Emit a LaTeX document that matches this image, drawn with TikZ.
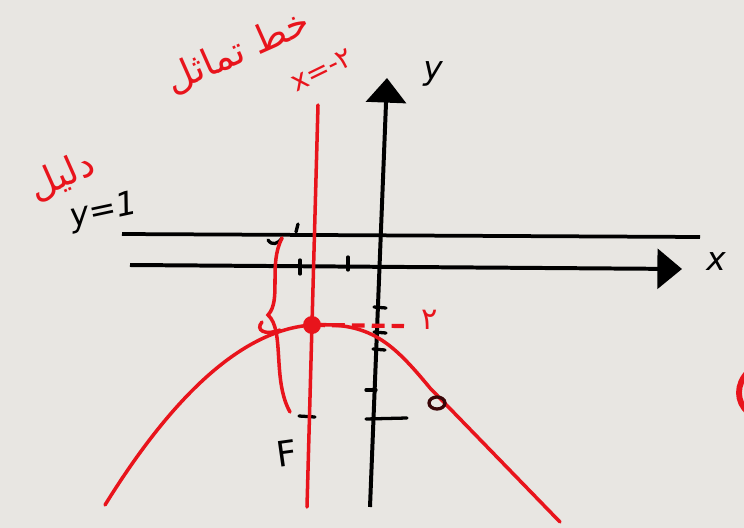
\documentclass[tikz,border=0pt]{standalone}
\usepackage{fontspec}
\setmainfont{DejaVu Sans}
\newfontfamily\arabicfont[Script=Arabic]{DejaVu Sans}
\TeXXeTstate=1
\usetikzlibrary{arrows.meta}
\definecolor{paper}{HTML}{E8E6E2}
\definecolor{pen}{HTML}{E8141C}

\begin{document}
\begin{tikzpicture}[
    x=0.03cm, y=-0.03cm,
    axis/.style={line width=3.4pt, -{Triangle[length=21pt,width=34pt]}},
    guide/.style={line width=3.2pt},
    penline/.style={pen, line width=3pt, line cap=round},
    tickmark/.style={line width=2.8pt, line cap=round},
    hand/.style={font=\fontsize{28}{28}\selectfont\itshape},
    arab/.style={pen, font=\arabicfont\fontsize{32}{32}\selectfont}
  ]
    \fill[paper] (0,0) rectangle (744,528);
    \useasboundingbox (0,0) rectangle (744,528);

    % axes and the line y=1
    \coordinate (ybot) at (370,507);
    \coordinate (ytop) at (387,78);
    \coordinate (xleft) at (130,265);
    \coordinate (xright) at (682,269);
    \coordinate (dleft) at (122,234);
    \coordinate (dright) at (700,237);
    \draw[axis] (ybot) -- (ytop);
    \draw[axis] (xleft) -- (xright);
    \draw[guide] (dleft) -- (dright);
    \node[hand] (ylab) at (433,74) {y};
    \node[hand] (xlab) at (716,262) {x};
    \node[hand, rotate=12] (dlab) at (104,212) {y=1};

    % ticks
    \draw[tickmark] (300,260) -- (300,274);
    \draw[tickmark] (348,257) -- (348,270);
    \draw[tickmark] (298,224) -- (296,232);
    \draw[tickmark] (268,240) .. controls (272,246) and (278,244) .. (282,238);
    \draw[tickmark] (374,307) -- (386,308);
    \draw[tickmark] (374,332) -- (386,333);
    \draw[tickmark] (373,349) -- (385,350);
    \draw[tickmark] (366,390) -- (376,390);
    \draw[tickmark] (366,419) -- (407,418);
    \draw[tickmark] (299,416) -- (315,417);

    % axis of symmetry
    \coordinate (stop) at (318,105);
    \coordinate (sbot) at (307,507);
    \draw[penline] (stop) -- (sbot);
    \node[arab, rotate=24] (symlab) at (238,52) {\beginR خط تماثل\endR};
    \node[pen, rotate=26, font=\arabicfont\fontsize{24}{24}\selectfont] (symeq) at (322,70) {x=-٢};
    \node[arab, rotate=24] (dirlab) at (62,176) {\beginR دليل\endR};

    % parabola and vertex
    \coordinate (vert) at (312,325);
    \draw[penline] (105,505) .. controls (170,400) and (240,330) .. (vert)
      .. controls (370,322) and (392,342) .. (430,388) -- (560,522);
    \fill[pen] (vert) circle (9);
    \draw[penline, line width=3.6pt, line cap=butt, dash pattern=on 11pt off 6pt] (vert) -- (404,326);
    \node[pen, font=\arabicfont\fontsize{26}{26}\selectfont] (vlab) at (430,320) {٢};

    % distance brace
    \draw[penline] (282,238) .. controls (268,265) and (282,300) .. (268,315)
      .. controls (285,330) and (272,380) .. (290,412);
    \draw[penline] (262,322) .. controls (255,330) and (265,336) .. (280,330);

    % focus and other marks
    \node[font=\fontsize{30}{30}\selectfont, rotate=8] (flab) at (287,453) {F};
    \draw[line width=2.8pt, black!75!pen] (437,403) ellipse (8 and 6);
    \draw[pen, line width=5pt] (748,372) .. controls (736,384) and (736,402) .. (748,412);
  \end{tikzpicture}
\end{document}
